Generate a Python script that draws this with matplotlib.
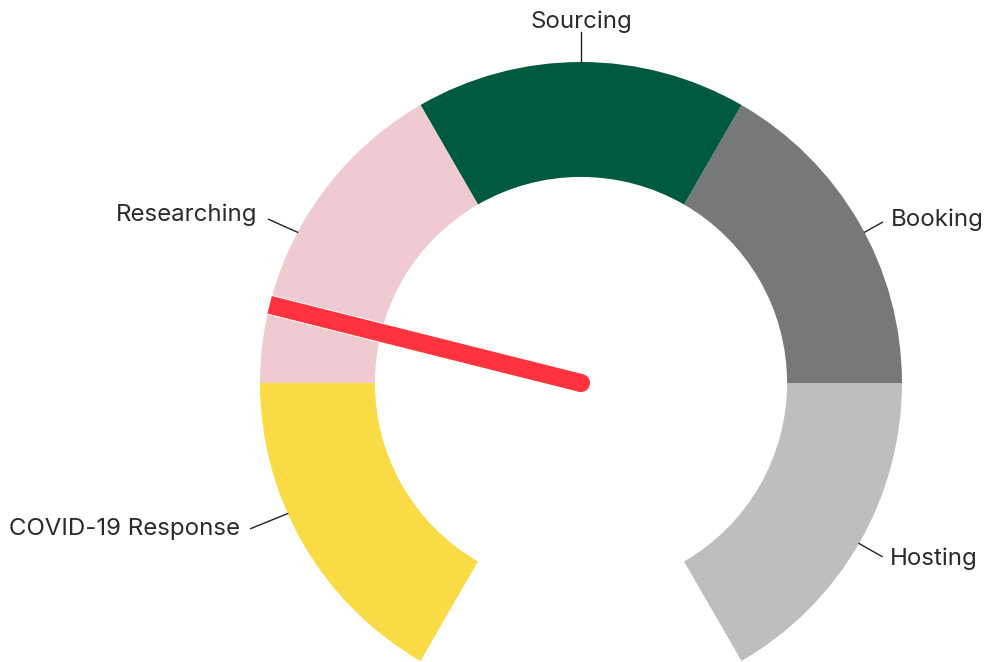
import numpy as np
import matplotlib
matplotlib.use("Agg")
import matplotlib.pyplot as plt
from matplotlib.patches import Wedge, Circle
import matplotlib.patheffects as pe

# --- data ---
categories = ["Hosting", "Booking", "Sourcing", "Researching", "COVID-19 Response"]
bands = [20, 20, 20, 20, 20]          # gauge bands, 0-100 scale
colors = ["#bebebe", "#77787a", "#005a3f", "#efcad0", "#f9db46"]
needle_value = 75.3                    # on the 0-100 scale (counted from the right end)

# --- gauge geometry ---
start_deg, span_deg = -60, 300         # right end at -60°, sweeps counterclockwise to 240°
r_out, r_in = 1.0, 0.642


def to_angle(v):
    return start_deg + span_deg * v / sum(bands)


plt.rcParams["font.family"] = ["Inter", "DejaVu Sans"]
fig = plt.figure(figsize=(9.85, 6.62), dpi=100)
ax = fig.add_axes([0, 0, 1, 1])
ax.set_xlim(-581 / 321, (985 - 581) / 321)
ax.set_ylim(-(662 - 383) / 321, 383 / 321)
ax.set_aspect("equal")
ax.axis("off")

edges = np.concatenate([[0], np.cumsum(bands)])
for i, (cat, col) in enumerate(zip(categories, colors)):
    a0, a1 = to_angle(edges[i]), to_angle(edges[i + 1])
    ax.add_patch(Wedge((0, 0), r_out, a0, a1, width=r_out - r_in,
                       facecolor=col, edgecolor="none"))

# --- labels with leader lines (attach angle, leader offset px, align, text dy px) ---
label_style = {
    "Hosting":           (-30, (23, -13), "left", -2),
    "Booking":           (28, (18, 10), "left", 3),
    "Sourcing":          (90, (0, 30), "center", 10),
    "Researching":       (152, (-29, 13), "right", 5),
    "COVID-19 Response": (204, (-37, -15), "right", 0),
}
px = 1 / 321
for cat in categories:
    ang, (dx, dy), ha, tdy = label_style[cat]
    t = np.deg2rad(ang)
    x0, y0 = r_out * np.cos(t), r_out * np.sin(t)
    x1, y1 = x0 + dx * px, y0 + dy * px
    ax.plot([x0, x1], [y0, y1], color="#222222", lw=1.0)
    off = {"left": 8, "right": -11, "center": 0}[ha] * px
    ax.text(x1 + off, y1 + tdy * px, cat, ha=ha, va="center",
            fontsize=17.3, color="#2b2b2b")

# --- needle ---
na = np.deg2rad(to_angle(needle_value))
ax.plot([0, r_out * np.cos(na)], [0, r_out * np.sin(na)], color="#ff3340",
        lw=13, solid_capstyle="butt", zorder=5,
        path_effects=[pe.Stroke(linewidth=14.4, foreground="white"), pe.Normal()])
ax.add_patch(Circle((0, 0), 9 * px, facecolor="#ff3340", edgecolor="none", zorder=6))

fig.savefig("out.png", dpi=100)
